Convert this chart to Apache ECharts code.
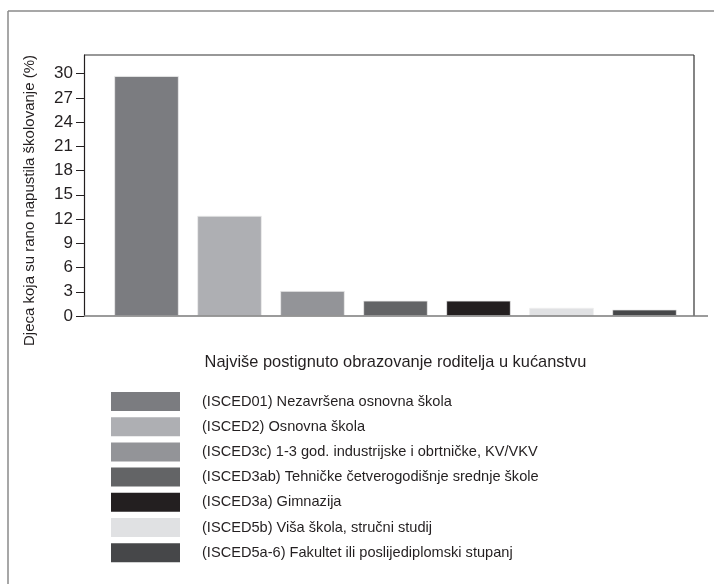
<!DOCTYPE html>
<html>
<head>
<meta charset="utf-8">
<script src="https://cdn.jsdelivr.net/npm/echarts@6/dist/echarts.min.js"></script>
<style>
html,body{margin:0;padding:0;background:#fff;}
#chart{width:714px;height:584px;}
</style>
</head>
<body>
<div id="chart"></div>
<script>
var categories = [
  "(ISCED01) Nezavršena osnovna škola",
  "(ISCED2) Osnovna škola",
  "(ISCED3c) 1-3 god. industrijske i obrtničke, KV/VKV",
  "(ISCED3ab) Tehničke četverogodišnje srednje škole",
  "(ISCED3a) Gimnazija",
  "(ISCED5b) Viša škola, stručni studij",
  "(ISCED5a-6) Fakultet ili poslijediplomski stupanj"
];
var values = [29.7, 12.4, 3.1, 1.9, 1.9, 1.0, 0.8];
var colors = ["#7b7c80", "#aeafb3", "#939498", "#636466", "#231f20", "#e0e1e3", "#464749"];
var yTicks = [0, 3, 6, 9, 12, 15, 18, 21, 24, 27, 30];
var yAxisTitle = "Djeca koja su rano napustila školovanje (%)";
var xAxisTitle = "Najviše postignuto obrazovanje roditelja u kućanstvu";

var FONT = "Liberation Sans, Arial, sans-serif";
var TXT = "#231f20";

var series = categories.map(function (name, i) {
  return {
    name: name,
    type: "bar",
    stack: "all",
    barWidth: 64.5,
    itemStyle: { color: colors[i], borderColor: "#ededed", borderWidth: 0.8 },
    data: categories.map(function (c, j) { return j === i ? values[i] : "-"; })
  };
});

var chart = echarts.init(document.getElementById("chart"), null, { renderer: "canvas" });
chart.setOption({
  animation: false,
  backgroundColor: "#ffffff",
  textStyle: { fontFamily: FONT },
  grid: { left: 105, right: 28, top: 55, bottom: 268, containLabel: false },
  legend: {
    orient: "vertical",
    left: 111,
    top: 392,
    padding: 0,
    itemWidth: 69,
    itemHeight: 19,
    itemGap: 6.2,
    icon: "rect",
    selectedMode: false,
    data: categories,
    itemStyle: { borderWidth: 0 },
    textStyle: { fontFamily: FONT, fontSize: 14.6, lineHeight: 19, color: TXT, padding: [0, 0, 0, 17] }
  },
  xAxis: {
    type: "category",
    data: categories,
    name: xAxisTitle,
    nameLocation: "middle",
    nameGap: 38,
    nameTextStyle: { fontFamily: FONT, fontSize: 16.4, color: TXT },
    axisLine: { show: false },
    axisTick: { show: false },
    axisLabel: { show: false }
  },
  yAxis: {
    type: "value",
    min: 0,
    max: 32.3,
    offset: 21,
    name: yAxisTitle,
    nameLocation: "middle",
    nameGap: 47,
    nameTextStyle: { fontFamily: FONT, fontSize: 15, color: TXT, padding: [0, 30, 0, 0] },
    axisLine: { show: true, lineStyle: { color: TXT, width: 1.2 } },
    axisTick: { show: true, length: 8, lineStyle: { color: TXT, width: 1 }, customValues: yTicks },
    axisLabel: { fontFamily: FONT, fontSize: 17, color: TXT, margin: 11, customValues: yTicks },
    splitLine: { show: false }
  },
  graphic: [
    { type: "line", shape: { x1: 8, y1: 584, x2: 8, y2: 11 }, style: { stroke: "#8a8a8a", lineWidth: 1.5 }, silent: true },
    { type: "line", shape: { x1: 8, y1: 11, x2: 714, y2: 11 }, style: { stroke: "#8a8a8a", lineWidth: 1.5 }, silent: true },
    { type: "line", shape: { x1: 84, y1: 55, x2: 694, y2: 55 }, style: { stroke: "#333333", lineWidth: 1.2 }, silent: true },
    { type: "line", shape: { x1: 694, y1: 55, x2: 694, y2: 316 }, style: { stroke: "#333333", lineWidth: 1.2 }, silent: true },
    { type: "line", shape: { x1: 84, y1: 316, x2: 708, y2: 316 }, style: { stroke: "#7a7a7a", lineWidth: 1.5 }, silent: true, z: 100 }
  ],
  series: series
});
</script>
</body>
</html>
